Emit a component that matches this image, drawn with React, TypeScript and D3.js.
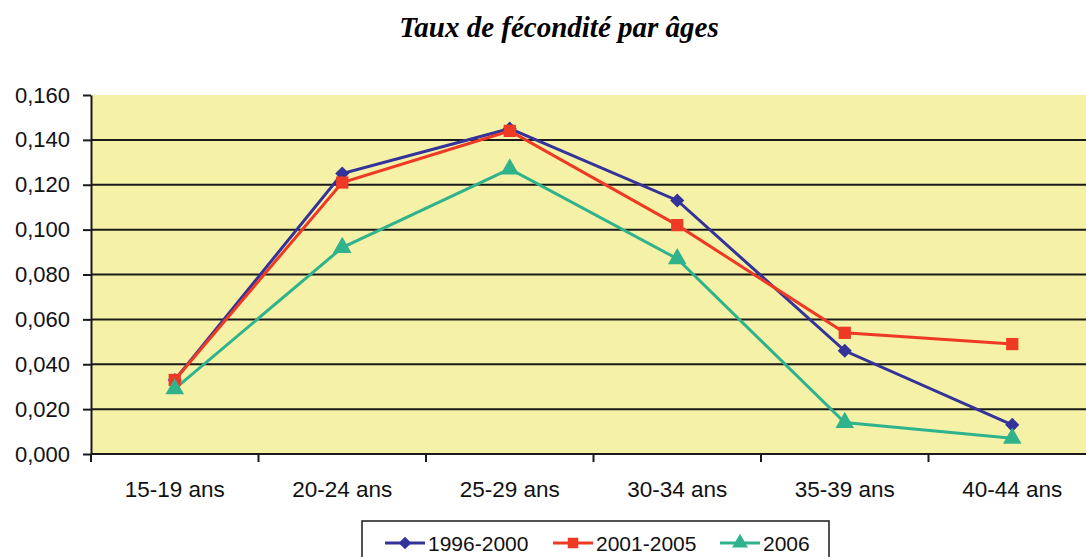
import React, { useEffect, useRef } from 'react';
import * as d3 from 'd3';

const categories = ['15-19 ans', '20-24 ans', '25-29 ans', '30-34 ans', '35-39 ans', '40-44 ans'];
const seriesNames = ['1996-2000', '2001-2005', '2006'];
const values1996 = [0.033, 0.125, 0.145, 0.113, 0.046, 0.013];
const values2001 = [0.033, 0.121, 0.144, 0.102, 0.054, 0.049];
const values2006 = [0.029, 0.092, 0.127, 0.087, 0.014, 0.007];
const yTicks = [0, 0.02, 0.04, 0.06, 0.08, 0.1, 0.12, 0.14, 0.16];

const colors = ['#33339a', '#ee3a24', '#30b38c'];
// diamond drawn as a square turned 45 degrees
const shapes = [d3.symbolSquare, d3.symbolSquare, d3.symbolTriangle];
const rotations = [45, 0, 0];
const sansFont = '"Liberation Sans", Arial, sans-serif';

const App = () => {
  const svgRef = useRef<SVGSVGElement>(null);

  useEffect(() => {
    const height = 557;
    const svg = d3.select(svgRef.current);
    svg.selectAll('*').remove();

    const margin = { top: 95, left: 91, bottom: 103 };
    const innerHeight = height - margin.top - margin.bottom;
    const plotRight = margin.left + 167.5 * 6;

    const g = svg.append('g');

    const x = d3.scaleBand().domain(categories).range([margin.left, plotRight]);
    const y = d3.scaleLinear().domain([0, 0.16]).range([margin.top + innerHeight, margin.top]);

    // Title
    svg.append('text')
      .attr('x', 559)
      .attr('y', 37)
      .attr('text-anchor', 'middle')
      .style('font-family', '"Liberation Serif", "Times New Roman", serif')
      .style('font-style', 'italic')
      .style('font-weight', 'bold')
      .style('font-size', '29px')
      .text('Taux de fécondité par âges');

    // Plot background
    g.append('rect')
      .attr('x', margin.left)
      .attr('y', y(0.16))
      .attr('width', plotRight - margin.left)
      .attr('height', y(0) - y(0.16))
      .attr('fill', '#f5f2a8');

    // Gridlines
    g.selectAll('.grid')
      .data(yTicks.filter(t => t > 0 && t < 0.16))
      .enter()
      .append('line')
      .attr('x1', margin.left)
      .attr('x2', plotRight)
      .attr('y1', d => y(d))
      .attr('y2', d => y(d))
      .attr('stroke', '#1a1a1a')
      .attr('stroke-width', 2);

    // Y axis
    const fmt = (d: number) => d3.format('.3f')(d).replace('.', ',');
    const yAxis = g.append('g')
      .attr('transform', `translate(${margin.left},0)`)
      .call(d3.axisLeft(y).tickValues(yTicks).tickFormat(fmt as any).tickSize(8).tickSizeOuter(0));
    yAxis.select('.domain').attr('stroke', '#1a1a1a').attr('stroke-width', 2);
    yAxis.selectAll('.tick line').attr('stroke', '#1a1a1a').attr('stroke-width', 2);
    yAxis.selectAll('.tick text')
      .attr('x', -21)
      .style('font-family', sansFont)
      .style('font-size', '22px')
      .attr('fill', '#111');

    // X axis
    g.append('line')
      .attr('x1', margin.left)
      .attr('x2', plotRight)
      .attr('y1', y(0))
      .attr('y2', y(0))
      .attr('stroke', '#1a1a1a')
      .attr('stroke-width', 2);
    const boundaries = categories.map(c => x(c) as number);
    g.selectAll('.xtick')
      .data(boundaries)
      .enter()
      .append('line')
      .attr('x1', d => d)
      .attr('x2', d => d)
      .attr('y1', y(0))
      .attr('y2', y(0) + 8)
      .attr('stroke', '#1a1a1a')
      .attr('stroke-width', 2);
    g.selectAll('.xlabel')
      .data(categories)
      .enter()
      .append('text')
      .attr('x', d => (x(d) as number) + x.bandwidth() / 2)
      .attr('y', 497)
      .attr('text-anchor', 'middle')
      .style('font-family', sansFont)
      .style('font-size', '22.5px')
      .attr('fill', '#111')
      .text(d => d);

    // Series
    const allSeries = [values1996, values2001, values2006];
    const line = d3.line<number>()
      .x((_, i) => (x(categories[i]) as number) + x.bandwidth() / 2)
      .y(d => y(d));

    allSeries.forEach((vals, si) => {
      g.append('path')
        .datum(vals)
        .attr('fill', 'none')
        .attr('stroke', colors[si])
        .attr('stroke-width', 3)
        .attr('d', line);
    });
    allSeries.forEach((vals, si) => {
      const size = si === 0 ? 100 : 150;
      g.selectAll(`.pt-${si}`)
        .data(vals)
        .enter()
        .append('path')
        .attr('transform', (d, i) =>
          `translate(${(x(categories[i]) as number) + x.bandwidth() / 2},${y(d)}) rotate(${rotations[si]})`)
        .attr('d', d3.symbol().type(shapes[si]).size(size)() as string)
        .attr('fill', colors[si]);
    });

    // Legend
    const legend = svg.append('g');
    legend.append('rect')
      .attr('x', 362)
      .attr('y', 521)
      .attr('width', 467)
      .attr('height', 60)
      .attr('fill', 'white')
      .attr('stroke', '#1a1a1a')
      .attr('stroke-width', 1.5);
    const legendX = [385, 553, 720];
    seriesNames.forEach((name, i) => {
      const lx = legendX[i];
      const ly = 543;
      legend.append('line')
        .attr('x1', lx)
        .attr('x2', lx + 40)
        .attr('y1', ly)
        .attr('y2', ly)
        .attr('stroke', colors[i])
        .attr('stroke-width', 3);
      legend.append('path')
        .attr('transform', `translate(${lx + 20},${ly}) rotate(${rotations[i]})`)
        .attr('d', d3.symbol().type(shapes[i]).size(i === 0 ? 80 : 110)() as string)
        .attr('fill', colors[i]);
      legend.append('text')
        .attr('x', lx + 43)
        .attr('y', ly + 8)
        .style('font-family', sansFont)
        .style('font-size', '21px')
        .attr('fill', '#111')
        .text(name);
    });
  }, []);

  return (
    <svg
      ref={svgRef}
      width={1086}
      height={557}
      style={{ position: 'fixed', left: 0, top: 0, background: 'white' }}
    />
  );
};

export default App;
